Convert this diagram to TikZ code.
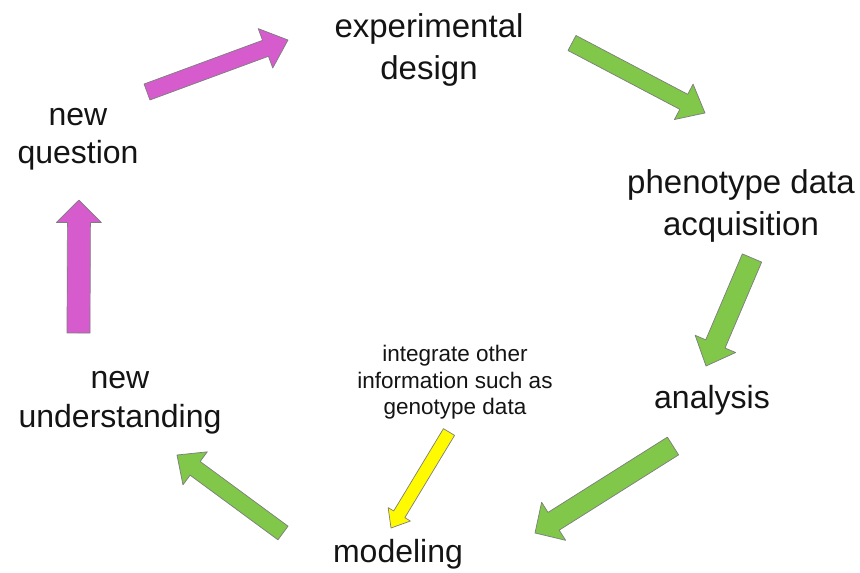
\documentclass[tikz,border=0pt]{standalone}
\usepackage{fontspec}
\setmainfont{Liberation Sans}
\usetikzlibrary{calc}
\definecolor{pinkA}{RGB}{214,92,206}
\definecolor{greenA}{RGB}{128,199,74}
\definecolor{yellowA}{RGB}{255,250,0}
\definecolor{edgeA}{RGB}{125,125,125}
\definecolor{txtA}{RGB}{20,20,20}
% #1 name, #2 tail, #3 tip, #4 shaft half width, #5 head half width, #6 head length, #7 style
\newcommand\blockarrow[7]{%
  \coordinate (#1h) at ($(#3)!#6!(#2)$);
  \filldraw[#7] ($(#2)!#4!90:(#3)$) -- ($(#1h)!#4!90:(#3)$) -- ($(#1h)!#5!90:(#3)$)
    -- (#3) -- ($(#1h)!#5!-90:(#3)$) -- ($(#1h)!#4!-90:(#3)$) -- ($(#2)!#4!-90:(#3)$) -- cycle;}
\tikzset{
  bigtxt/.style={anchor=base, inner sep=0pt, text=txtA, font=\fontsize{33}{42}\selectfont},
  midtxt/.style={anchor=base, inner sep=0pt, text=txtA, font=\fontsize{32}{39}\selectfont},
  smalltxt/.style={anchor=base, inner sep=0pt, text=txtA, font=\fontsize{22.5}{26.5}\selectfont},
  arrowbase/.style={draw=edgeA, line width=0.7pt, line join=round},
  pinkarrow/.style={arrowbase, fill=pinkA},
  greenarrow/.style={arrowbase, fill=greenA},
  yellowarrow/.style={arrowbase, fill=yellowA},
}
\begin{document}
\begin{tikzpicture}[x=1pt, y=-1pt]
\useasboundingbox[fill=white] (0,0) rectangle (860,573);
% labels
\node[bigtxt] (exp) at (429,37) {\begin{tabular}[t]{@{}c@{}}experimental\\design\end{tabular}};
\node[bigtxt] (pheno) at (741,193) {\begin{tabular}[t]{@{}c@{}}phenotype data\\acquisition\end{tabular}};
\node[midtxt] (analysis) at (712,408) {analysis};
\node[midtxt] (model) at (398,562) {modeling};
\node[midtxt, font=\fontsize{32}{39}\selectfont] (newu) at (120,388) {\begin{tabular}[t]{@{}c@{}}new\\understanding\end{tabular}};
\node[midtxt, font=\fontsize{32}{38}\selectfont] (newq) at (78,125) {\begin{tabular}[t]{@{}c@{}}new\\question\end{tabular}};
\node[smalltxt] (integ) at (455,361.5) {\begin{tabular}[t]{@{}c@{}}integrate other\\information such as\\genotype data\end{tabular}};
% arrow end points
\coordinate (a1t) at (147,92);  \coordinate (a1p) at (288,40);
\coordinate (a2t) at (572,43);  \coordinate (a2p) at (705,113);
\coordinate (a3t) at (752,258); \coordinate (a3p) at (706,366);
\coordinate (a4t) at (673,446); \coordinate (a4p) at (535,533);
\coordinate (a5t) at (283,533); \coordinate (a5p) at (177,455);
\coordinate (a6t) at (78.5,333); \coordinate (a6p) at (79,200);
\coordinate (a7t) at (449,432); \coordinate (a7p) at (391,528);
% arrows
\blockarrow{a1}{a1t}{a1p}{8.5pt}{21pt}{24pt}{pinkarrow}
\blockarrow{a2}{a2t}{a2p}{8.5pt}{20pt}{24pt}{greenarrow}
\blockarrow{a3}{a3t}{a3p}{10.5pt}{22pt}{24pt}{greenarrow}
\blockarrow{a4}{a4t}{a4p}{10.5pt}{22.5pt}{22pt}{greenarrow}
\blockarrow{a5}{a5t}{a5p}{8.5pt}{20.5pt}{22.5pt}{greenarrow}
\blockarrow{a6}{a6t}{a6p}{11.5pt}{22.5pt}{22.5pt}{pinkarrow}
\blockarrow{a7}{a7t}{a7p}{6.5pt}{13pt}{16pt}{yellowarrow}
\end{tikzpicture}
\end{document}
